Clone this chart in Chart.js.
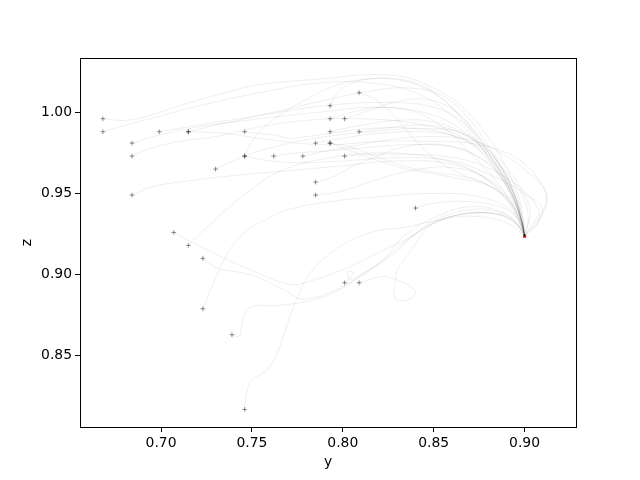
<!DOCTYPE html>
<html>
<head>
<meta charset="utf-8">
<script src="https://cdn.jsdelivr.net/npm/chart.js@4.4.1/dist/chart.umd.min.js"></script>
<style>
  html, body { margin: 0; padding: 0; background: #fff; }
  #wrap { width: 640px; height: 480px; }
</style>
</head>
<body>
<div id="wrap"><canvas id="chart" width="640" height="480"></canvas></div>
<script>
// Trajectories in the (y, z) plane, each as [y, z] pairs
const traj01 = [[0.668,0.996],[0.680,0.995],[0.694,0.998],[0.710,1.004],[0.732,1.011],[0.754,1.017],[0.793,1.021],[0.810,1.023],[0.832,1.022],[0.848,1.016],[0.865,1.004],[0.881,0.983],[0.892,0.961],[0.898,0.943],[0.900,0.924]];
const traj02 = [[0.668,0.988],[0.677,0.991],[0.694,0.996],[0.721,1.004],[0.754,1.012],[0.787,1.018],[0.815,1.018],[0.840,1.012],[0.860,0.998],[0.875,0.980],[0.888,0.962],[0.896,0.944],[0.900,0.924]];
const traj03 = [[0.684,0.981],[0.699,0.986],[0.721,0.991],[0.754,0.996],[0.787,1.000],[0.820,1.003],[0.850,0.998],[0.870,0.985],[0.885,0.965],[0.895,0.945],[0.900,0.924]];
const traj04 = [[0.684,0.973],[0.695,0.978],[0.710,0.982],[0.730,0.985],[0.754,0.991],[0.780,0.995],[0.810,0.996],[0.840,0.993],[0.865,0.985],[0.882,0.968],[0.893,0.948],[0.899,0.930],[0.900,0.924]];
const traj05 = [[0.684,0.949],[0.695,0.954],[0.710,0.957],[0.740,0.961],[0.770,0.964],[0.800,0.967],[0.830,0.970],[0.860,0.968],[0.880,0.958],[0.893,0.943],[0.899,0.928],[0.900,0.924]];
const traj06 = [[0.699,0.988],[0.715,0.991],[0.754,0.998],[0.790,1.004],[0.825,1.006],[0.850,1.003],[0.868,0.992],[0.882,0.972],[0.892,0.952],[0.898,0.934],[0.900,0.924]];
const traj07 = [[0.715,0.988],[0.730,0.992],[0.754,0.998],[0.785,1.006],[0.810,1.012],[0.835,1.015],[0.855,1.010],[0.870,0.995],[0.884,0.972],[0.894,0.950],[0.899,0.930],[0.900,0.924]];
const traj08 = [[0.715,0.988],[0.735,0.987],[0.760,0.983],[0.790,0.980],[0.820,0.982],[0.850,0.982],[0.875,0.980],[0.895,0.972],[0.908,0.958],[0.912,0.945],[0.905,0.932],[0.900,0.924]];
const traj09 = [[0.707,0.926],[0.722,0.917],[0.749,0.903],[0.771,0.894],[0.782,0.896],[0.804,0.905],[0.822,0.915],[0.837,0.923],[0.850,0.933],[0.870,0.940],[0.888,0.938],[0.897,0.930],[0.900,0.924]];
const traj10 = [[0.715,0.918],[0.726,0.930],[0.748,0.951],[0.766,0.964],[0.793,0.972],[0.820,0.975],[0.850,0.972],[0.875,0.962],[0.890,0.946],[0.898,0.930],[0.900,0.924]];
const traj11 = [[0.723,0.910],[0.731,0.904],[0.749,0.900],[0.767,0.891],[0.778,0.885],[0.797,0.891],[0.811,0.900],[0.826,0.911],[0.841,0.926],[0.860,0.936],[0.880,0.938],[0.895,0.932],[0.900,0.924]];
const traj12 = [[0.723,0.879],[0.730,0.898],[0.736,0.912],[0.745,0.925],[0.756,0.933],[0.770,0.940],[0.793,0.945],[0.820,0.948],[0.850,0.950],[0.875,0.948],[0.892,0.940],[0.899,0.928],[0.900,0.924]];
const traj13 = [[0.730,0.965],[0.746,0.973],[0.760,0.978],[0.785,0.984],[0.815,0.988],[0.845,0.990],[0.868,0.986],[0.885,0.970],[0.894,0.950],[0.899,0.930],[0.900,0.924]];
const traj14 = [[0.739,0.863],[0.743,0.862],[0.745,0.872],[0.749,0.880],[0.764,0.881],[0.782,0.884],[0.797,0.890],[0.808,0.898],[0.822,0.909],[0.833,0.923],[0.850,0.935],[0.872,0.942],[0.890,0.937],[0.898,0.928],[0.900,0.924]];
const traj15 = [[0.746,0.988],[0.753,0.987],[0.762,0.986],[0.771,0.984],[0.780,0.985],[0.793,0.987],[0.815,0.990],[0.840,0.990],[0.862,0.985],[0.880,0.972],[0.893,0.952],[0.899,0.932],[0.900,0.924]];
const traj16 = [[0.746,0.973],[0.749,0.980],[0.754,0.988],[0.765,0.998],[0.780,1.008],[0.795,1.016],[0.810,1.020],[0.830,1.020],[0.848,1.013],[0.863,1.000],[0.877,0.982],[0.889,0.962],[0.897,0.942],[0.900,0.924]];
const traj17 = [[0.746,0.973],[0.760,0.970],[0.780,0.969],[0.800,0.970],[0.830,0.972],[0.860,0.970],[0.880,0.962],[0.900,0.950],[0.910,0.940],[0.906,0.930],[0.900,0.924]];
const traj18 = [[0.746,0.817],[0.747,0.827],[0.750,0.835],[0.758,0.841],[0.764,0.852],[0.769,0.868],[0.775,0.886],[0.782,0.901],[0.793,0.913],[0.804,0.921],[0.819,0.927],[0.833,0.929],[0.850,0.933],[0.870,0.936],[0.890,0.932],[0.900,0.924]];
const traj19 = [[0.762,0.973],[0.775,0.975],[0.790,0.976],[0.810,0.978],[0.835,0.980],[0.860,0.979],[0.878,0.970],[0.890,0.955],[0.897,0.938],[0.900,0.924]];
const traj20 = [[0.778,0.973],[0.790,0.976],[0.805,0.979],[0.825,0.983],[0.848,0.985],[0.870,0.983],[0.887,0.975],[0.903,0.962],[0.912,0.950],[0.910,0.938],[0.903,0.928],[0.900,0.924]];
const traj21 = [[0.785,0.981],[0.800,0.984],[0.820,0.987],[0.845,0.988],[0.865,0.984],[0.882,0.972],[0.893,0.955],[0.899,0.935],[0.900,0.924]];
const traj22 = [[0.785,0.957],[0.794,0.960],[0.806,0.967],[0.817,0.972],[0.831,0.978],[0.850,0.980],[0.870,0.975],[0.886,0.962],[0.895,0.945],[0.899,0.930],[0.900,0.924]];
const traj23 = [[0.785,0.949],[0.798,0.951],[0.809,0.955],[0.826,0.961],[0.842,0.965],[0.860,0.966],[0.878,0.960],[0.892,0.947],[0.899,0.932],[0.900,0.924]];
const traj24 = [[0.793,1.004],[0.797,1.012],[0.805,1.018],[0.820,1.021],[0.840,1.018],[0.855,1.008],[0.868,0.992],[0.880,0.972],[0.891,0.952],[0.898,0.935],[0.900,0.924]];
const traj25 = [[0.793,0.996],[0.805,1.000],[0.822,1.003],[0.840,1.000],[0.856,0.990],[0.870,0.975],[0.884,0.958],[0.894,0.942],[0.899,0.930],[0.900,0.924]];
const traj26 = [[0.793,0.988],[0.810,0.992],[0.830,0.995],[0.850,0.994],[0.868,0.986],[0.885,0.972],[0.897,0.955],[0.903,0.940],[0.901,0.928],[0.900,0.924]];
const traj27 = [[0.793,0.981],[0.805,0.976],[0.820,0.970],[0.835,0.965],[0.850,0.962],[0.865,0.959],[0.880,0.955],[0.890,0.948],[0.896,0.938],[0.899,0.930],[0.900,0.924]];
const traj28 = [[0.793,0.981],[0.803,0.979],[0.818,0.973],[0.833,0.967],[0.850,0.963],[0.868,0.960],[0.882,0.954],[0.891,0.946],[0.897,0.935],[0.900,0.924]];
const traj29 = [[0.801,0.996],[0.812,1.000],[0.828,1.006],[0.845,1.008],[0.860,1.002],[0.872,0.988],[0.884,0.968],[0.894,0.948],[0.899,0.932],[0.900,0.924]];
const traj30 = [[0.801,0.973],[0.815,0.974],[0.835,0.974],[0.855,0.973],[0.875,0.968],[0.892,0.958],[0.905,0.945],[0.908,0.934],[0.902,0.926],[0.900,0.924]];
const traj31 = [[0.809,1.012],[0.818,1.008],[0.828,0.998],[0.838,0.985],[0.850,0.972],[0.865,0.962],[0.880,0.955],[0.891,0.945],[0.898,0.932],[0.900,0.924]];
const traj32 = [[0.809,0.988],[0.822,0.990],[0.840,0.992],[0.858,0.990],[0.875,0.980],[0.890,0.963],[0.900,0.946],[0.902,0.932],[0.900,0.924]];
const traj33 = [[0.801,0.895],[0.804,0.898],[0.806,0.901],[0.803,0.902],[0.804,0.897],[0.811,0.901],[0.822,0.909],[0.840,0.925],[0.858,0.935],[0.878,0.938],[0.893,0.934],[0.900,0.924]];
const traj34 = [[0.809,0.895],[0.822,0.899],[0.827,0.898],[0.837,0.893],[0.840,0.889],[0.837,0.885],[0.829,0.885],[0.829,0.897],[0.830,0.903],[0.837,0.914],[0.848,0.930],[0.865,0.937],[0.887,0.937],[0.897,0.929],[0.900,0.924]];
const traj35 = [[0.840,0.941],[0.850,0.944],[0.868,0.945],[0.886,0.942],[0.896,0.935],[0.900,0.924]];

const trajectories = [traj01, traj02, traj03, traj04, traj05, traj06, traj07, traj08, traj09, traj10,
  traj11, traj12, traj13, traj14, traj15, traj16, traj17, traj18, traj19, traj20,
  traj21, traj22, traj23, traj24, traj25, traj26, traj27, traj28, traj29, traj30,
  traj31, traj32, traj33, traj34, traj35];

// Common end point (red)
const targetY = [0.900];
const targetZ = [0.9237];

// Axis ticks
const yTicks = [0.70, 0.75, 0.80, 0.85, 0.90];
const zTicks = [0.85, 0.90, 0.95, 1.00];

const datasets = [];

// one faint line per trajectory
trajectories.forEach(t => {
    datasets.push({
        data: t.map(p => ({ x: p[0], y: p[1] })),
        showLine: true,
        borderColor: 'rgba(0,0,0,0.08)',
        borderWidth: 0.9,
        pointRadius: 0,
        tension: 0.4,
        fill: false
    });
});

// start markers
datasets.push({
    data: trajectories.map(t => ({ x: t[0][0], y: t[0][1] })),
    showLine: false,
    pointStyle: 'cross',
    pointRadius: 2.4,
    pointBorderWidth: 1,
    pointBorderColor: 'rgba(0,0,0,0.42)',
    pointBackgroundColor: 'rgba(0,0,0,0.42)'
});

// end marker
datasets.push({
    data: targetY.map((v, i) => ({ x: v, y: targetZ[i] })),
    showLine: false,
    pointStyle: 'rect',
    pointRadius: 2.2,
    pointBorderWidth: 0,
    pointBackgroundColor: '#ff0000'
});

// draw the full box around the plot area, matplotlib style
const frameBox = {
    id: 'frameBox',
    afterDatasetsDraw(chart) {
        const a = chart.chartArea;
        const ctx = chart.ctx;
        ctx.save();
        ctx.strokeStyle = '#000';
        ctx.lineWidth = 1;
        ctx.strokeRect(Math.round(a.left) + 0.5, Math.round(a.top) + 0.5,
            Math.round(a.right - a.left), Math.round(a.bottom - a.top));
        ctx.restore();
    }
};

const font = { family: 'DejaVu Sans', size: 13.9 };

const ctx = document.getElementById('chart').getContext('2d');
new Chart(ctx, {
    type: 'scatter',
    data: { datasets: datasets },
    options: {
        responsive: false,
        animation: false,
        devicePixelRatio: 1,
        layout: { padding: { left: 0, right: 64, top: 58, bottom: 0 } },
        plugins: { legend: { display: false }, tooltip: { enabled: false } },
        scales: {
            x: {
                type: 'linear',
                min: 0.6554,
                max: 0.9283,
                afterBuildTicks: s => { s.ticks = yTicks.map(v => ({ value: v })); },
                afterFit: s => { s.height = 53; },
                ticks: {
                    color: '#000', font: font, padding: 3, maxRotation: 0,
                    callback: v => v.toFixed(2)
                },
                grid: { drawOnChartArea: false, drawTicks: true, tickLength: 5, tickColor: '#000' },
                border: { display: false },
                title: { display: true, text: 'y', color: '#000', font: font, padding: { top: 0, bottom: 9 } }
            },
            y: {
                type: 'linear',
                min: 0.8062,
                max: 1.0334,
                afterBuildTicks: s => { s.ticks = zTicks.map(v => ({ value: v })); },
                afterFit: s => { s.width = 80; },
                ticks: {
                    color: '#000', font: font, padding: 3,
                    callback: v => v.toFixed(2)
                },
                grid: { drawOnChartArea: false, drawTicks: true, tickLength: 5, tickColor: '#000' },
                border: { display: false },
                title: { display: true, text: 'z', color: '#000', font: font, padding: { top: 19, bottom: 0 } }
            }
        }
    },
    plugins: [frameBox]
});
</script>
</body>
</html>
